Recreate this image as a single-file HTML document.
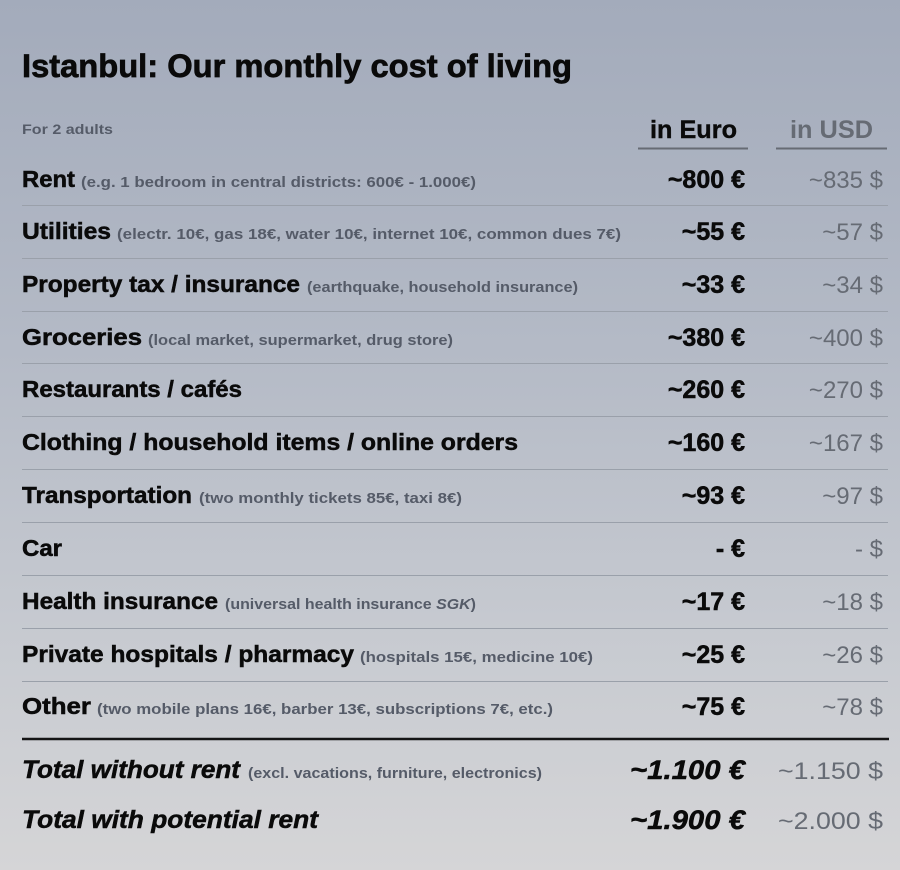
<!DOCTYPE html>
<html><head><meta charset="utf-8"><style>
html,body{margin:0;padding:0;}
body{width:900px;height:870px;background:linear-gradient(180deg,#a3abbb 0%,#b4bac6 40%,#c8cbd1 75%,#d5d5d7 100%);overflow:hidden;}
svg{display:block;font-family:"Liberation Sans",sans-serif;}
.l{font-weight:bold;font-size:23px;fill:#0a0a0a;stroke:#0a0a0a;stroke-width:0.5;}
.n{font-weight:bold;font-size:15px;fill:#555b68;}
.e{font-weight:bold;font-size:25px;fill:#0a0a0a;text-anchor:end;stroke:#0a0a0a;stroke-width:0.5;}
.u{font-size:24px;fill:#666b74;text-anchor:end;}
.sep{stroke:#9aa0aa;stroke-width:1;}
</style></head><body>
<svg width="900" height="870" viewBox="0 0 900 870">
<text x="22" y="77" font-size="32" font-weight="bold" fill="#0a0a0a" stroke="#0a0a0a" stroke-width="0.7" textLength="550" lengthAdjust="spacingAndGlyphs">Istanbul: Our monthly cost of living</text>
<text x="22" y="134" font-size="14" font-weight="bold" fill="#555b68" textLength="91" lengthAdjust="spacingAndGlyphs">For 2 adults</text>
<text x="650" y="138" font-size="25" font-weight="bold" fill="#0a0a0a" stroke="#0a0a0a" stroke-width="0.4" textLength="87" lengthAdjust="spacingAndGlyphs">in Euro</text>
<text x="790" y="138" font-size="25" font-weight="bold" fill="#666b74" textLength="83" lengthAdjust="spacingAndGlyphs">in USD</text>
<line x1="638" y1="148.5" x2="748" y2="148.5" stroke="#666b74" stroke-width="2"/>
<line x1="776" y1="148.5" x2="887" y2="148.5" stroke="#666b74" stroke-width="2"/>

<g>
<text class="l" x="22" y="187" textLength="53" lengthAdjust="spacingAndGlyphs">Rent</text>
<text class="n" x="81" y="187" textLength="395" lengthAdjust="spacingAndGlyphs">(e.g. 1 bedroom in central districts: 600€ - 1.000€)</text>
<text class="e" x="745" y="188">~800 €</text><text class="u" x="883" y="188">~835 $</text>
<line class="sep" x1="22" y1="205.5" x2="888" y2="205.5"/>

<text class="l" x="22" y="239" textLength="89" lengthAdjust="spacingAndGlyphs">Utilities</text>
<text class="n" x="117" y="239" textLength="504" lengthAdjust="spacingAndGlyphs">(electr. 10€, gas 18€, water 10€, internet 10€, common dues 7€)</text>
<text class="e" x="745" y="240">~55 €</text><text class="u" x="883" y="240">~57 $</text>
<line class="sep" x1="22" y1="258.5" x2="888" y2="258.5"/>

<text class="l" x="22" y="292" textLength="278" lengthAdjust="spacingAndGlyphs">Property tax / insurance</text>
<text class="n" x="307" y="292" textLength="271" lengthAdjust="spacingAndGlyphs">(earthquake, household insurance)</text>
<text class="e" x="745" y="293">~33 €</text><text class="u" x="883" y="293">~34 $</text>
<line class="sep" x1="22" y1="311.5" x2="888" y2="311.5"/>

<text class="l" x="22" y="345" textLength="120" lengthAdjust="spacingAndGlyphs">Groceries</text>
<text class="n" x="148" y="345" textLength="305" lengthAdjust="spacingAndGlyphs">(local market, supermarket, drug store)</text>
<text class="e" x="745" y="346">~380 €</text><text class="u" x="883" y="346">~400 $</text>
<line class="sep" x1="22" y1="363.5" x2="888" y2="363.5"/>

<text class="l" x="22" y="397" textLength="220" lengthAdjust="spacingAndGlyphs">Restaurants / cafés</text>
<text class="e" x="745" y="398">~260 €</text><text class="u" x="883" y="398">~270 $</text>
<line class="sep" x1="22" y1="416.5" x2="888" y2="416.5"/>

<text class="l" x="22" y="450" textLength="496" lengthAdjust="spacingAndGlyphs">Clothing / household items / online orders</text>
<text class="e" x="745" y="451">~160 €</text><text class="u" x="883" y="451">~167 $</text>
<line class="sep" x1="22" y1="469.5" x2="888" y2="469.5"/>

<text class="l" x="22" y="503" textLength="170" lengthAdjust="spacingAndGlyphs">Transportation</text>
<text class="n" x="199" y="503" textLength="263" lengthAdjust="spacingAndGlyphs">(two monthly tickets 85€, taxi 8€)</text>
<text class="e" x="745" y="504">~93 €</text><text class="u" x="883" y="504">~97 $</text>
<line class="sep" x1="22" y1="522.5" x2="888" y2="522.5"/>

<text class="l" x="22" y="556" textLength="40" lengthAdjust="spacingAndGlyphs">Car</text>
<text class="e" x="745" y="557">- €</text><text class="u" x="883" y="557">- $</text>
<line class="sep" x1="22" y1="575.5" x2="888" y2="575.5"/>

<text class="l" x="22" y="609" textLength="196" lengthAdjust="spacingAndGlyphs">Health insurance</text>
<text class="n" x="225" y="609" textLength="251" lengthAdjust="spacingAndGlyphs">(universal health insurance <tspan font-style="italic">SGK</tspan>)</text>
<text class="e" x="745" y="610">~17 €</text><text class="u" x="883" y="610">~18 $</text>
<line class="sep" x1="22" y1="628.5" x2="888" y2="628.5"/>

<text class="l" x="22" y="662" textLength="332" lengthAdjust="spacingAndGlyphs">Private hospitals / pharmacy</text>
<text class="n" x="360" y="662" textLength="233" lengthAdjust="spacingAndGlyphs">(hospitals 15€, medicine 10€)</text>
<text class="e" x="745" y="663">~25 €</text><text class="u" x="883" y="663">~26 $</text>
<line class="sep" x1="22" y1="681.5" x2="888" y2="681.5"/>

<text class="l" x="22" y="714" textLength="69" lengthAdjust="spacingAndGlyphs">Other</text>
<text class="n" x="97" y="714" textLength="456" lengthAdjust="spacingAndGlyphs">(two mobile plans 16€,  barber 13€, subscriptions 7€, etc.)</text>
<text class="e" x="745" y="715">~75 €</text><text class="u" x="883" y="715">~78 $</text>
</g>

<line x1="22" y1="739" x2="889" y2="739" stroke="#151515" stroke-width="2.5"/>

<text x="22" y="778" font-size="25" font-weight="bold" font-style="italic" fill="#0a0a0a" stroke="#0a0a0a" stroke-width="0.5" textLength="218" lengthAdjust="spacingAndGlyphs">Total without rent</text>
<text class="n" x="248" y="778" textLength="294" lengthAdjust="spacingAndGlyphs">(excl. vacations, furniture, electronics)</text>
<text x="745" y="779" font-size="27" font-weight="bold" font-style="italic" fill="#0a0a0a" stroke="#0a0a0a" stroke-width="0.5" text-anchor="end" textLength="115" lengthAdjust="spacingAndGlyphs">~1.100 €</text>
<text class="u" x="883" y="779" textLength="105" lengthAdjust="spacingAndGlyphs">~1.150 $</text>

<text x="22" y="828" font-size="25" font-weight="bold" font-style="italic" fill="#0a0a0a" stroke="#0a0a0a" stroke-width="0.5" textLength="296" lengthAdjust="spacingAndGlyphs">Total with potential rent</text>
<text x="745" y="829" font-size="27" font-weight="bold" font-style="italic" fill="#0a0a0a" stroke="#0a0a0a" stroke-width="0.5" text-anchor="end" textLength="115" lengthAdjust="spacingAndGlyphs">~1.900 €</text>
<text class="u" x="883" y="829" textLength="105" lengthAdjust="spacingAndGlyphs">~2.000 $</text>
</svg>
</body></html>
